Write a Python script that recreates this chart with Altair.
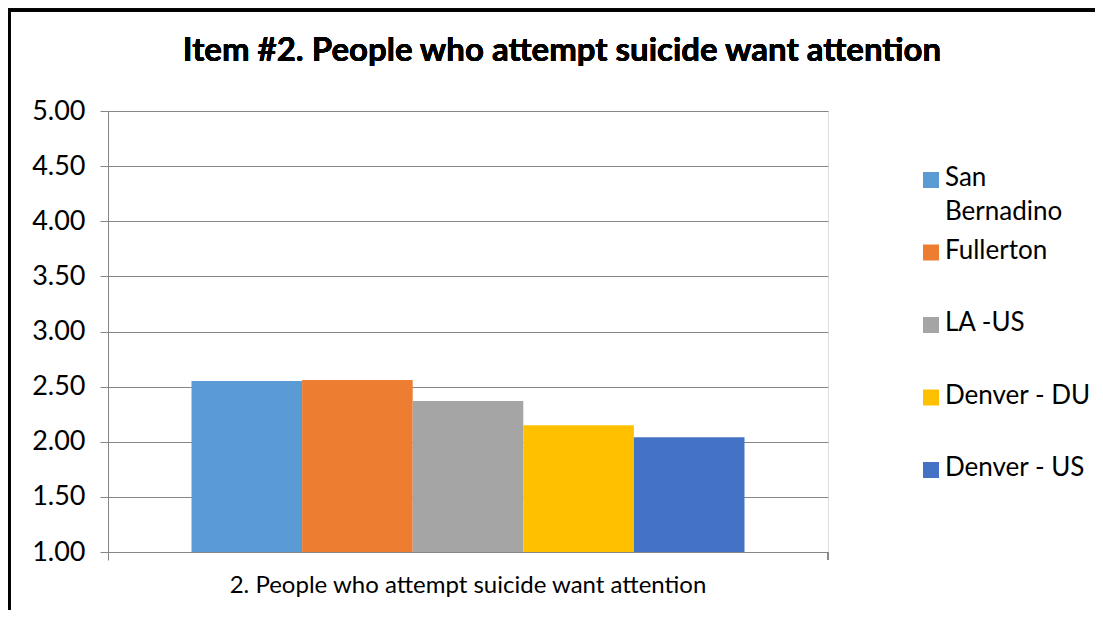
import altair as alt
import pandas as pd

series = ["San Bernadino", "Fullerton", "LA -US", "Denver - DU", "Denver - US"]
legend_text = ["San\nBernadino", "Fullerton", "LA -US", "Denver - DU", "Denver - US"]
values = [2.55, 2.56, 2.37, 2.15, 2.04]
colors = ["#5B9BD5", "#ED7D31", "#A5A5A5", "#FFC000", "#4472C4"]
category = "2. People who attempt suicide want attention"
title_text = "Item #2. People who attempt suicide want attention"
y_ticks = [1.0, 1.5, 2.0, 2.5, 3.0, 3.5, 4.0, 4.5, 5.0]

df = pd.DataFrame({"cat": [category] * len(series), "series": series,
                   "value": values, "legend": legend_text})

FONT = "Lato"
GRID = "#868686"

color_enc = alt.Color("series:N", sort=series,
                      scale=alt.Scale(domain=series, range=colors), legend=None)

bars = alt.Chart(df).mark_bar(clip=True).encode(
    x=alt.X("cat:N", title=None,
            scale=alt.Scale(paddingInner=0, paddingOuter=0),
            axis=alt.Axis(labelFontSize=24, labelFont=FONT, labelColor="#000", labelAngle=0,
                          labelPadding=13, domainColor=GRID, tickColor=GRID,
                          tickSize=8, bandPosition=0, labelLimit=800)),
    xOffset=alt.XOffset("series:N", sort=series,
                        scale=alt.Scale(paddingOuter=0.755, paddingInner=0)),
    y=alt.Y("value:Q", title=None,
            scale=alt.Scale(domain=[1, 5], nice=False, zero=False),
            axis=alt.Axis(values=y_ticks, format=".2f", labelFontSize=27, labelFont=FONT,
                          labelColor="#000", labelPadding=15, tickSize=8, tickColor=GRID,
                          domainColor=GRID, gridColor=GRID, grid=True)),
    color=color_enc,
)

right_tick = alt.Chart(df).mark_rule(color=GRID).encode(
    x=alt.value(720), y=alt.value(441), y2=alt.value(449)
)

legend_y = alt.Y("series:N", sort=series, axis=None,
                 scale=alt.Scale(type="point", range=[69, 359], padding=0))

legend_sym = alt.Chart(df).mark_square(size=256, opacity=1).encode(
    x=alt.value(823), y=legend_y, color=color_enc
)
legend_lbl = alt.Chart(df).mark_text(align="left", baseline="top", dy=-15, lineBreak="\n",
                                     font=FONT, fontSize=26, color="#000",
                                     lineHeight=34).encode(
    x=alt.value(837), y=legend_y, text="legend:N"
)

title = alt.Chart(df).mark_text(font=FONT, fontSize=33, fontWeight="bold", color="#000",
                                align="center", baseline="alphabetic").encode(
    x=alt.value(454), y=alt.value(-50), text=alt.datum(title_text)
)

frame = alt.Chart(df).mark_rect(fill=None, stroke="#000", strokeWidth=3).encode(
    x=alt.value(-99), x2=alt.value(1100), y=alt.value(-101), y2=alt.value(700)
)

chart = alt.layer(bars, right_tick, legend_sym, legend_lbl, title, frame).resolve_scale(
    y="independent"
).properties(
    width=720, height=441,
    padding={"left": 100, "top": 103, "right": 267, "bottom": 58},
    autosize=alt.AutoSizeParams(type="none"),
).configure_view(stroke=None).configure(background="white")

chart.save("out.html", embed_options={"renderer": "svg", "actions": False})
